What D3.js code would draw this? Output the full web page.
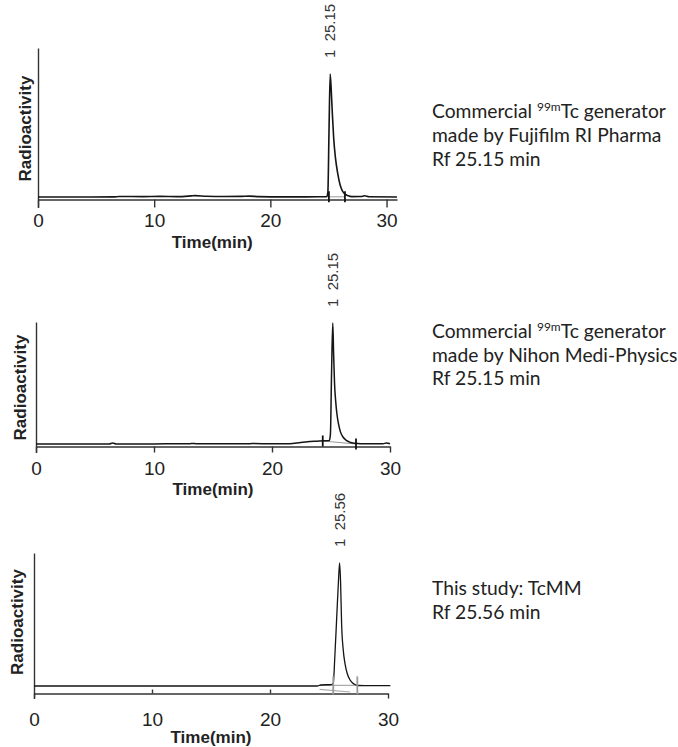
<!DOCTYPE html>
<html><head><meta charset="utf-8">
<script src="https://cdn.jsdelivr.net/npm/d3@7"></script>
<style>body{margin:0;background:#fff}svg{display:block}</style>
</head><body><svg id="c" width="678" height="747"></svg>
<script>
// ---------------- DATA ----------------
const xTicks = [0, 10, 20, 30];

const fujiTime   = [0, 3, 6.5, 7, 9, 10.5, 12, 13.2, 13.5, 14.5, 16, 17.5, 18.2, 19, 21, 23, 24.85, 24.95, 25.05, 25.15, 25.25, 25.35, 25.45, 25.6, 25.8, 26.0, 26.2, 26.4, 26.7, 27.0, 27.8, 28.1, 28.5, 30.9];
const fujiSignal = [0, 0, 0.1, 0.4, 0.3, 0.5, 0.3, 0.9, 1.1, 0.6, 0.4, 0.5, 0.7, 0.3, 0.1, 0.1, 0.2, 4, 55, 100, 85, 65, 48, 32, 19, 10, 5, 2.5, 1, 0.3, 0.4, 1.0, 0.2, 0];
const fujiMarks = [25.04, 26.42];
const fujiBaseTime = [25.04, 26.42];
const fujiBaseValue = [0.2, 0.2];

const nihonTime   = [0, 6.2, 6.5, 6.8, 10, 13, 13.3, 13.6, 18, 18.3, 20, 21.5, 22.3, 23, 23.8, 24.5, 24.85, 24.95, 25.05, 25.15, 25.22, 25.3, 25.4, 25.5, 25.65, 25.8, 26.0, 26.3, 26.6, 27.0, 27.5, 29.4, 29.7, 30];
const nihonSignal = [0, 0, 0.9, 0, 0.1, 0.2, 0.5, 0.2, 0.2, 0.4, 0.2, 0.3, 1.0, 1.8, 2.3, 2.7, 2.8, 8, 60, 100, 75, 50, 35, 25, 16, 10, 6, 3, 1.5, 0.6, 0.2, 0.2, 0.8, 0.2];
const nihonMarks = [24.3, 27.12];
const nihonBaseTime = [24.3, 27.12];
const nihonBaseValue = [2.5, 0];

const tcmmTime   = [0, 24.0, 24.3, 25.2, 25.36, 25.5, 25.65, 25.8, 25.9, 25.98, 26.07, 26.2, 26.36, 26.55, 26.78, 27.0, 27.2, 27.5, 28, 30.2];
const tcmmSignal = [0, 0, 0.8, 1.2, 2, 25, 55, 85, 100, 85, 50, 30, 18, 10, 5, 2.5, 1.2, 0.4, 0.3, 0.3];
const tcmmMarks = [25.36, 27.4];
const tcmmBaseTime = [24.2, 27.4];
const tcmmBaseValue = [0.5, 0.5];
const tcmmSlopeTime = [24.2, 26.8];
const tcmmSlopeValue = [-2.7, -4.9];

const peakTimes  = [25.15, 25.15, 25.9];
const peakLabels = ["1  25.15", "1  25.15", "1  25.56"];
const yTitle = "Radioactivity";
const xTitle = "Time(min)";
const descFuji  = [["Commercial ", "^99m", "Tc generator"], ["made by Fujifilm RI Pharma"], ["Rf 25.15 min"]];
const descNihon = [["Commercial ", "^99m", "Tc generator"], ["made by Nihon Medi-Physics"], ["Rf 25.15 min"]];
const descTcmm  = [["This study: TcMM"], ["Rf 25.56 min"]];

// ---------------- LAYOUT ----------------
const zip = (a, b) => a.map((t, i) => [t, b[i]]);
const panels = [
  {trace: zip(fujiTime, fujiSignal), marks: fujiMarks, base: [zip(fujiBaseTime, fujiBaseValue)], desc: descFuji,
   x0: 38, x1: 397, xMax: 30.9, axisY: 199.5, topY: 48, zeroY: 197, peakY: 74, tickLen: 8, tickUp: [],
   tickBase: 227, titleBase: 248, radX: 31, radY: 128.5, descY: [118, 142, 166], markHalf: 5.5, markColor: "#111", baseColor: "#aaa", traceW: 1.6},
  {trace: zip(nihonTime, nihonSignal), marks: nihonMarks, base: [zip(nihonBaseTime, nihonBaseValue)], desc: descNihon,
   x0: 36, x1: 390, xMax: 30, axisY: 446.5, topY: 322, zeroY: 444, peakY: 323, tickLen: 6, tickUp: [],
   tickBase: 475, titleBase: 495, radX: 26, radY: 387.5, descY: [338, 362, 385], markHalf: 5.5, markColor: "#111", baseColor: "#999", traceW: 1.5},
  {trace: zip(tcmmTime, tcmmSignal), marks: tcmmMarks, base: [zip(tcmmBaseTime, tcmmBaseValue), zip(tcmmSlopeTime, tcmmSlopeValue)], desc: descTcmm,
   x0: 34, x1: 388, xMax: 30, axisY: 693.5, topY: 553, zeroY: 686, peakY: 563, tickLen: 5, tickUp: [10, 20],
   tickBase: 726, titleBase: 743, radX: 22.5, radY: 622, descY: [595, 619], markHalf: 9, markColor: "#999", baseColor: "#aaa", traceW: 1.3}
];

const svg = d3.select("#c");
const axisFont = "'Liberation Sans', Arial, Helvetica, sans-serif";
const descFont = "Lato, 'Open Sans', sans-serif";

panels.forEach((p, i) => {
  const g = svg.append("g");
  const x = d3.scaleLinear().domain([0, p.xMax]).range([p.x0, p.x1]);
  const y = d3.scaleLinear().domain([0, 100]).range([p.zeroY, p.peakY]);

  // x axis
  const xa = g.append("g").attr("transform", `translate(0,${p.axisY})`)
    .call(d3.axisBottom(x).tickValues(xTicks).tickSize(p.tickLen).tickSizeOuter(0).tickFormat(d3.format("d")));
  xa.select(".domain").attr("stroke", "#333").attr("stroke-width", 1.4);
  xa.selectAll(".tick line").attr("stroke", "#333").attr("stroke-width", 1.4)
    .attr("y2", d => p.tickUp.includes(d) ? -4 : p.tickLen);
  xa.selectAll(".tick text").attr("y", p.tickBase - p.axisY).attr("dy", 0)
    .attr("font-family", axisFont).attr("font-size", 19).attr("fill", "#222");

  // y axis
  const yAx = d3.scaleLinear().domain([y.invert(p.axisY + p.tickLen), y.invert(p.topY)])
    .range([p.axisY + p.tickLen, p.topY]);
  const ya = g.append("g").attr("transform", `translate(${p.x0},0)`)
    .call(d3.axisLeft(yAx).tickValues([]).tickSizeOuter(0));
  ya.select(".domain").attr("stroke", "#333").attr("stroke-width", 1.4);

  // integration baselines
  p.base.forEach(b => {
    g.append("path").datum(b)
      .attr("d", d3.line().x(d => x(d[0])).y(d => y(d[1])))
      .attr("fill", "none").attr("stroke", p.baseColor).attr("stroke-width", 1.2);
  });

  // trace
  g.append("path").datum(p.trace)
    .attr("d", d3.line().x(d => x(d[0])).y(d => y(d[1])).curve(d3.curveMonotoneX))
    .attr("fill", "none").attr("stroke", "#151515").attr("stroke-width", p.traceW)
    .attr("stroke-linejoin", "round");

  // integration marks
  const b0 = p.base[0];
  const bScale = d3.scaleLinear().domain([b0[0][0], b0[b0.length - 1][0]]).range([b0[0][1], b0[b0.length - 1][1]]);
  g.selectAll("line.mark").data(p.marks).join("line").attr("class", "mark")
    .attr("x1", d => x(d)).attr("x2", d => x(d))
    .attr("y1", d => y(bScale(d)) - p.markHalf).attr("y2", d => y(bScale(d)) + p.markHalf)
    .attr("stroke", p.markColor).attr("stroke-width", 1.8);

  // peak label
  const px = x(peakTimes[i]), py = y(100) - 16;
  g.append("text").attr("transform", `translate(${px},${py}) rotate(-90)`)
    .attr("dy", "0.35em").attr("font-family", axisFont).attr("font-size", 15).attr("fill", "#333")
    .style("white-space", "pre")
    .text(peakLabels[i]);

  // axis titles
  g.append("text").attr("transform", `translate(${p.radX},${p.radY}) rotate(-90)`)
    .attr("text-anchor", "middle").attr("font-family", axisFont).attr("font-weight", "bold")
    .attr("font-size", 17).attr("fill", "#222").text(yTitle);
  g.append("text").attr("x", x(15)).attr("y", p.titleBase)
    .attr("text-anchor", "middle").attr("font-family", axisFont).attr("font-weight", "bold")
    .attr("font-size", 17).attr("fill", "#222").text(xTitle);

  // description
  p.desc.forEach((parts, j) => {
    const t = svg.append("text").attr("class", "desc").attr("x", 432).attr("y", p.descY[j])
      .attr("font-family", descFont).attr("font-size", 18).attr("fill", "#222");
    let afterSup = false;
    parts.forEach(s => {
      if (s.startsWith("^")) {
        t.append("tspan").attr("font-size", "0.62em").attr("dy", "-0.55em").text(s.slice(1));
        afterSup = true;
      } else {
        const ts = t.append("tspan").text(s);
        if (afterSup) { ts.attr("dy", "0.34em"); afterSup = false; }
      }
    });
  });
});

// fit description font size to the reference width of the first line
const first = svg.select("text.desc").node();
const w = first.getComputedTextLength();
const fs = 18 * 234 / w;
svg.selectAll("text.desc").attr("font-size", fs);
</script>
</body></html>
